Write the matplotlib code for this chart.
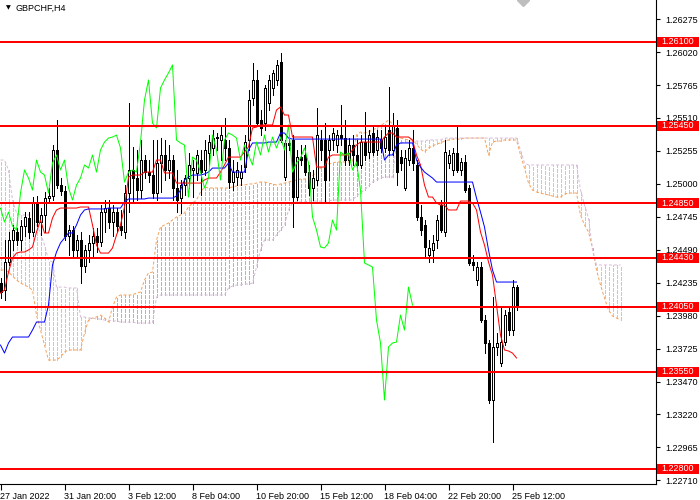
import matplotlib
matplotlib.use("Agg")
import matplotlib.pyplot as plt
import numpy as np
from matplotlib.transforms import blended_transform_factory
from matplotlib.patches import Rectangle

plt.rcParams['font.family'] = ['Liberation Sans', 'DejaVu Sans']

# ---------------- data (GBPCHF, H4) ----------------
opens = [1.24234, 1.24180, 1.24397, 1.24567, 1.24629, 1.24567, 1.24675, 1.24737, 1.24629, 1.24861,
         1.24706, 1.24760, 1.24891, 1.24907, 1.25263, 1.24992, 1.24946, 1.24598, 1.24644, 1.24490,
         1.24567, 1.24366, 1.24490, 1.24544, 1.24598, 1.24551, 1.24783, 1.24814, 1.24706, 1.24783,
         1.24675, 1.24629, 1.24930, 1.25108, 1.25046, 1.24953, 1.25185, 1.25092, 1.25069, 1.24930,
         1.25162, 1.25224, 1.25108, 1.25185, 1.24969, 1.24891, 1.24992, 1.25046, 1.25108, 1.25085,
         1.25185, 1.25108, 1.25239, 1.25278, 1.25355, 1.25340, 1.25340, 1.25278, 1.25015, 1.25054,
         1.25046, 1.25131, 1.25340, 1.25665, 1.25804, 1.25494, 1.25471, 1.25626, 1.25742, 1.25804,
         1.25943, 1.25054, 1.25317, 1.25340, 1.24899, 1.25208, 1.25224, 1.25092, 1.24969, 1.25031,
         1.25340, 1.25340, 1.25263, 1.25340, 1.25301, 1.25378, 1.25355, 1.25185, 1.25301, 1.25224,
         1.25147, 1.25324, 1.25247, 1.25394, 1.25263, 1.25340, 1.25278, 1.25417, 1.25263, 1.25433,
         1.25208, 1.24969, 1.25185, 1.25278, 1.25147, 1.24745, 1.24683, 1.24451, 1.24490, 1.24567,
         1.24837, 1.24629, 1.25162, 1.25108, 1.25239, 1.25108, 1.25170, 1.24969, 1.24397, 1.24258,
         1.24358, 1.23948, 1.23771, 1.23330, 1.23740, 1.23616, 1.23778, 1.24010, 1.23871, 1.24203]
highs = [1.24273, 1.24567, 1.24629, 1.24683, 1.24660, 1.24721, 1.24783, 1.24783, 1.24899, 1.24907,
         1.24814, 1.24938, 1.24969, 1.25301, 1.25494, 1.25046, 1.24984, 1.24683, 1.24675, 1.24605,
         1.24629, 1.24528, 1.24605, 1.24660, 1.24660, 1.24837, 1.24876, 1.24876, 1.24837, 1.24814,
         1.24799, 1.24992, 1.25626, 1.25286, 1.25263, 1.25340, 1.25224, 1.25185, 1.25340, 1.25340,
         1.25355, 1.25340, 1.25301, 1.25224, 1.25108, 1.25031, 1.25069, 1.25239, 1.25185, 1.25263,
         1.25263, 1.25340, 1.25378, 1.25417, 1.25394, 1.25456, 1.25510, 1.25340, 1.25185, 1.25170,
         1.25147, 1.25378, 1.25726, 1.25935, 1.25881, 1.25572, 1.25765, 1.25842, 1.25881, 1.25958,
         1.26012, 1.25340, 1.25355, 1.25378, 1.25263, 1.25301, 1.25301, 1.25147, 1.25108, 1.25587,
         1.25417, 1.25471, 1.25378, 1.25433, 1.25417, 1.25610, 1.25494, 1.25355, 1.25378, 1.25340,
         1.25378, 1.25556, 1.25417, 1.25456, 1.25417, 1.25417, 1.25456, 1.25750, 1.25549, 1.25494,
         1.25263, 1.25263, 1.25340, 1.25417, 1.25185, 1.24837, 1.24721, 1.24567, 1.24605, 1.24760,
         1.24876, 1.25340, 1.25263, 1.25278, 1.25456, 1.25201, 1.25224, 1.24992, 1.24451, 1.24397,
         1.24397, 1.23987, 1.23794, 1.24126, 1.23848, 1.24049, 1.24026, 1.24041, 1.24258, 1.24219]
lows = [1.24118, 1.24103, 1.24374, 1.24490, 1.24528, 1.24490, 1.24598, 1.24582, 1.24598, 1.24675,
        1.24605, 1.24629, 1.24853, 1.24876, 1.24969, 1.24915, 1.24567, 1.24451, 1.24443, 1.24428,
        1.24234, 1.24319, 1.24397, 1.24428, 1.24474, 1.24520, 1.24629, 1.24660, 1.24598, 1.24629,
        1.24605, 1.24582, 1.24783, 1.24853, 1.24876, 1.24891, 1.25046, 1.25015, 1.24891, 1.24876,
        1.24938, 1.25031, 1.25046, 1.24876, 1.24783, 1.24776, 1.24915, 1.24969, 1.24899, 1.25031,
        1.24915, 1.25069, 1.25147, 1.25224, 1.25263, 1.25185, 1.25185, 1.24969, 1.24953, 1.24992,
        1.24992, 1.25092, 1.25263, 1.25610, 1.25456, 1.25378, 1.25417, 1.25572, 1.25688, 1.25765,
        1.25324, 1.25031, 1.25263, 1.24667, 1.24876, 1.25147, 1.25069, 1.24915, 1.24876, 1.24992,
        1.25185, 1.24853, 1.25031, 1.25263, 1.25247, 1.25301, 1.25147, 1.25147, 1.25147, 1.25108,
        1.25123, 1.25185, 1.25201, 1.25224, 1.25224, 1.25247, 1.25247, 1.25224, 1.25224, 1.24992,
        1.25108, 1.24953, 1.25147, 1.25108, 1.24721, 1.24605, 1.24428, 1.24397, 1.24397, 1.24505,
        1.24629, 1.24598, 1.25123, 1.25069, 1.25092, 1.25069, 1.24938, 1.24374, 1.24335, 1.24219,
        1.23933, 1.23693, 1.23307, 1.23005, 1.23678, 1.23593, 1.23755, 1.23832, 1.23832, 1.24026]
closes = [1.24165, 1.24397, 1.24567, 1.24644, 1.24567, 1.24675, 1.24745, 1.24629, 1.24861, 1.24706,
          1.24760, 1.24891, 1.24907, 1.25263, 1.24992, 1.24946, 1.24598, 1.24644, 1.24490, 1.24567,
          1.24366, 1.24490, 1.24544, 1.24598, 1.24551, 1.24783, 1.24814, 1.24706, 1.24783, 1.24675,
          1.24644, 1.24930, 1.25108, 1.25046, 1.24953, 1.25185, 1.25092, 1.25069, 1.24930, 1.25162,
          1.25224, 1.25108, 1.25185, 1.24969, 1.24876, 1.24992, 1.25046, 1.25147, 1.25123, 1.25224,
          1.25092, 1.25263, 1.25324, 1.25355, 1.25363, 1.25378, 1.25278, 1.25015, 1.25092, 1.25108,
          1.25092, 1.25324, 1.25649, 1.25804, 1.25471, 1.25433, 1.25742, 1.25804, 1.25858, 1.25920,
          1.25340, 1.25317, 1.25301, 1.24899, 1.25208, 1.25185, 1.25092, 1.24969, 1.25046, 1.25378,
          1.25263, 1.25031, 1.25340, 1.25394, 1.25378, 1.25355, 1.25185, 1.25301, 1.25224, 1.25147,
          1.25324, 1.25224, 1.25378, 1.25247, 1.25363, 1.25278, 1.25363, 1.25263, 1.25456, 1.25092,
          1.25162, 1.25201, 1.25278, 1.25162, 1.24745, 1.24644, 1.24513, 1.24505, 1.24544, 1.24721,
          1.24644, 1.25247, 1.25224, 1.25239, 1.25108, 1.25170, 1.24953, 1.24389, 1.24374, 1.24358,
          1.23948, 1.23771, 1.23330, 1.23740, 1.23771, 1.23778, 1.23987, 1.23871, 1.24203, 1.24064]

tenkan = [1.24157, 1.24180, 1.24319, 1.24428, 1.24466, 1.24474, 1.24474, 1.24490, 1.24513, 1.24629,
          1.24721, 1.24621, 1.24621, 1.24737, 1.24799, 1.24814, 1.24814, 1.24814, 1.24814, 1.24814,
          1.24822, 1.24822, 1.24822, 1.24683, 1.24528, 1.24466, 1.24466, 1.24466, 1.24505, 1.24605,
          1.24683, 1.24822, 1.25054, 1.25069, 1.25069, 1.25069, 1.25092, 1.25092, 1.25092, 1.25185,
          1.25185, 1.25085, 1.25085, 1.25085, 1.25007, 1.25007, 1.25007, 1.25007, 1.25007, 1.25007,
          1.25007, 1.25031, 1.25046, 1.25046, 1.25046, 1.25092, 1.25147, 1.25208, 1.25208, 1.25208,
          1.25208, 1.25247, 1.25286, 1.25433, 1.25440, 1.25456, 1.25456, 1.25456, 1.25456, 1.25572,
          1.25595, 1.25533, 1.25533, 1.25363, 1.25363, 1.25363, 1.25363, 1.25363, 1.25363, 1.25131,
          1.25131, 1.25131, 1.25208, 1.25224, 1.25224, 1.25224, 1.25224, 1.25224, 1.25263, 1.25301,
          1.25324, 1.25324, 1.25324, 1.25324, 1.25324, 1.25324, 1.25363, 1.25394, 1.25394, 1.25363,
          1.25363, 1.25363, 1.25363, 1.25340, 1.25224, 1.25147, 1.24992, 1.24899, 1.24899, 1.24853,
          1.24837, 1.24837, 1.24799, 1.24799, 1.24799, 1.24868, 1.24868, 1.24868, 1.24853, 1.24799,
          1.24629, 1.24528, 1.24397, 1.24296, 1.24064, 1.23832, 1.23717, 1.23709, 1.23693, 1.23655]
kijun = [1.23755, 1.23693, 1.23771, 1.23817, 1.23817, 1.23817, 1.23817, 1.23817, 1.23871, 1.23933,
         1.23933, 1.23933, 1.24064, 1.24374, 1.24474, 1.24544, 1.24582, 1.24621, 1.24621, 1.24683,
         1.24760, 1.24799, 1.24807, 1.24807, 1.24807, 1.24807, 1.24807, 1.24814, 1.24814, 1.24814,
         1.24814, 1.24861, 1.24884, 1.24884, 1.24884, 1.24884, 1.24884, 1.24891, 1.24891, 1.24891,
         1.24891, 1.24891, 1.24891, 1.24891, 1.24907, 1.24953, 1.25031, 1.25054, 1.25069, 1.25069,
         1.25069, 1.25077, 1.25092, 1.25123, 1.25123, 1.25123, 1.25123, 1.25162, 1.25092, 1.25092,
         1.25092, 1.25092, 1.25263, 1.25317, 1.25317, 1.25317, 1.25317, 1.25324, 1.25324, 1.25324,
         1.25394, 1.25394, 1.25355, 1.25347, 1.25347, 1.25347, 1.25347, 1.25347, 1.25347, 1.25347,
         1.25347, 1.25347, 1.25347, 1.25347, 1.25347, 1.25347, 1.25347, 1.25347, 1.25347, 1.25347,
         1.25347, 1.25347, 1.25347, 1.25347, 1.25347, 1.25347, 1.25185, 1.25224, 1.25224, 1.25301,
         1.25317, 1.25317, 1.25317, 1.25317, 1.25185, 1.25131, 1.25092, 1.25069, 1.25046, 1.25015,
         1.25015, 1.25015, 1.25015, 1.25015, 1.25015, 1.25015, 1.25015, 1.25015, 1.25015, 1.24891,
         1.24783, 1.24667, 1.24490, 1.24335, 1.24242, 1.24242, 1.24242, 1.24242, 1.24242, 1.24242]
span_a = [1.24335, 1.24335, 1.24319, 1.24288, 1.24258, 1.24234, 1.24219, 1.24203, 1.24180, 1.23987,
          1.23871, 1.23755, 1.23639, 1.23639, 1.23639, 1.23662, 1.23701, 1.23717, 1.23717, 1.23717,
          1.23717, 1.23848, 1.23948, 1.23964, 1.23972, 1.23987, 1.23964, 1.23933, 1.24049, 1.24126,
          1.24142, 1.24142, 1.24142, 1.24142, 1.24157, 1.24165, 1.24258, 1.24312, 1.24319, 1.24567,
          1.24667, 1.24683, 1.24698, 1.24721, 1.24745, 1.24760, 1.24776, 1.24822, 1.24853, 1.24876,
          1.24938, 1.24977, 1.24969, 1.24969, 1.24969, 1.24969, 1.24969, 1.24969, 1.24977, 1.24984,
          1.24992, 1.24992, 1.25000, 1.25000, 1.25007, 1.25015, 1.25015, 1.25007, 1.25000, 1.24992,
          1.25000, 1.25007, 1.25015, 1.25023, 1.25031, 1.25038, 1.25038, 1.25046, 1.25062, 1.25092,
          1.25123, 1.25139, 1.25154, 1.25162, 1.25170, 1.25170, 1.25170, 1.25170, 1.25170, 1.25378,
          1.25402, 1.25394, 1.25402, 1.25417, 1.25433, 1.25448, 1.25471, 1.25494, 1.25463, 1.25402,
          1.25355, 1.25347, 1.25340, 1.25340, 1.25309, 1.25270, 1.25247, 1.25278, 1.25293, 1.25309,
          1.25317, 1.25332, 1.25340, 1.25347, 1.25347, 1.25347, 1.25355, 1.25355, 1.25355, 1.25355,
          1.25355, 1.25355, 1.25224, 1.25324, 1.25332, 1.25332, 1.25340, 1.25340, 1.25340, 1.25340,
          1.25224, 1.25123, 1.25007, 1.24953, 1.24938, 1.24930, 1.24922, 1.24915, 1.24907, 1.24899,
          1.24899, 1.24922, 1.24930, 1.24930, 1.24930, 1.24760, 1.24683, 1.24629, 1.24505, 1.24335,
          1.24219, 1.24118, 1.24026, 1.23979, 1.23964, 1.23948]
span_b = [1.25185, 1.25185, 1.25108, 1.24876, 1.24776, 1.24760, 1.24760, 1.24760, 1.24760, 1.24683,
          1.24621, 1.24528, 1.24412, 1.24397, 1.24203, 1.24203, 1.24203, 1.24196, 1.24196, 1.24196,
          1.23972, 1.23972, 1.23964, 1.23964, 1.23956, 1.23956, 1.23948, 1.23948, 1.23941, 1.23941,
          1.23933, 1.23933, 1.23933, 1.23933, 1.23925, 1.23925, 1.23925, 1.23925, 1.23925, 1.24126,
          1.24142, 1.24142, 1.24142, 1.24142, 1.24142, 1.24142, 1.24142, 1.24142, 1.24142, 1.24142,
          1.24142, 1.24142, 1.24142, 1.24142, 1.24142, 1.24142, 1.24142, 1.24196, 1.24211, 1.24219,
          1.24219, 1.24227, 1.24227, 1.24234, 1.24358, 1.24490, 1.24567, 1.24567, 1.24567, 1.24605,
          1.24644, 1.24683, 1.24799, 1.24853, 1.24861, 1.24861, 1.24861, 1.24868, 1.24868, 1.24868,
          1.24868, 1.24868, 1.24868, 1.24876, 1.24876, 1.24876, 1.24876, 1.24876, 1.24876, 1.24907,
          1.24930, 1.24953, 1.24984, 1.25015, 1.25031, 1.25046, 1.25054, 1.25054, 1.25054, 1.25317,
          1.25317, 1.25324, 1.25324, 1.25324, 1.25332, 1.25332, 1.25332, 1.25340, 1.25340, 1.25340,
          1.25340, 1.25355, 1.25355, 1.25355, 1.25355, 1.25355, 1.25355, 1.25355, 1.25355, 1.25355,
          1.25355, 1.25355, 1.25355, 1.25355, 1.25355, 1.25355, 1.25355, 1.25355, 1.25355, 1.25355,
          1.25263, 1.25162, 1.25147, 1.25147, 1.25147, 1.25147, 1.25147, 1.25147, 1.25147, 1.25147,
          1.25147, 1.25147, 1.25147, 1.25147, 1.25147, 1.24953, 1.24837, 1.24737, 1.24490, 1.24374,
          1.24374, 1.24374, 1.24374, 1.24374, 1.24374, 1.24374]
chikou_shift = 26

levels = [1.26100, 1.25450, 1.24850, 1.24430, 1.24050, 1.23550, 1.22800]
price_ticks = [1.26275, 1.26020, 1.25765, 1.25510, 1.25255, 1.25000, 1.24745, 1.24490,
               1.24235, 1.23980, 1.23725, 1.23470, 1.23220, 1.22965, 1.22710]
date_bars = [0, 16, 32, 48, 64, 80, 96, 112, 128]
date_labels = ["27 Jan 2022", "31 Jan 20:00", "3 Feb 12:00", "8 Feb 04:00", "10 Feb 20:00",
               "15 Feb 12:00", "18 Feb 04:00", "22 Feb 20:00", "25 Feb 12:00"]
symbol_title = "GBPCHF,H4"

# ---------------- figure ----------------
W, H = 700, 500
fig = plt.figure(figsize=(W / 100, H / 100), dpi=100)
fig.patch.set_facecolor('white')
ax = fig.add_axes([0, 16 / H, 656 / W, 484 / H])
ax.set_facecolor('white')

n = len(closes)
x = np.arange(n)
o = np.array(opens); h = np.array(highs); l = np.array(lows); c = np.array(closes)
a = np.array(span_a); b = np.array(span_b)
xc = np.arange(len(a))

px = 0.72                # one screen pixel
dash = (0, (3, 2))
up_col = '#F4A460'       # sandy brown (span A above)
dn_col = '#D8BFD8'       # thistle (span B above)

# Ichimoku cloud: crisp dashed vertical hatch per bar (MT4 style)
cols = [up_col if a[i] >= b[i] else dn_col for i in range(len(a))]
ax.vlines(xc, np.minimum(a, b), np.maximum(a, b), colors=cols, linestyles=dash,
          linewidth=px, antialiased=False, zorder=1)
ax.plot(xc, a, color=up_col, linestyle=dash, linewidth=px, zorder=1.2)
ax.plot(xc, b, color=dn_col, linestyle=dash, linewidth=px, zorder=1.2)

# candles
ax.vlines(x, l, h, colors='black', linewidth=px, antialiased=False, zorder=2)
bull = c >= o
bot = np.minimum(o, c)
hgt = np.abs(c - o)
ax.bar(x[bull], hgt[bull], bottom=bot[bull], width=0.5, color='white',
       edgecolor='black', linewidth=px, antialiased=False, zorder=2.2)
ax.bar(x[~bull], hgt[~bull], bottom=bot[~bull], width=0.5, color='black',
       edgecolor='black', linewidth=px, antialiased=False, zorder=2.2)

# Ichimoku lines
ax.plot(x, tenkan, color='#FF0000', linewidth=px, zorder=3)
ax.plot(x, kijun, color='#0000FF', linewidth=px, zorder=3)
ax.plot(x - chikou_shift, c, color='#00FF00', linewidth=px, zorder=3)

# horizontal levels
for lv in levels:
    ax.axhline(lv, color='#FF0000', linewidth=1.44, zorder=4)

# axes setup
ax.set_xlim(-0.125, 163.875)
ax.set_ylim(1.22681, 1.26422)
for s in ['left', 'top']:
    ax.spines[s].set_visible(False)
for s in ['right', 'bottom']:
    ax.spines[s].set_linewidth(0.8)
    ax.spines[s].set_color('black')

ax.yaxis.tick_right()
ax.set_yticks(price_ticks)
ax.set_yticklabels([f"{v:.5f}" for v in price_ticks])
ax.tick_params(axis='y', direction='out', length=3, width=0.8, pad=4, labelsize=6.5)
ax.set_xticks(date_bars)
ax.set_xticklabels(date_labels)
ax.tick_params(axis='x', direction='out', length=4, width=0.8, pad=1.5, labelsize=6.5)
for lab in ax.get_xticklabels():
    lab.set_ha('left')

# level labels on the price scale
tr = blended_transform_factory(ax.transAxes, ax.transData)
half = 5 * (1.26422 - 1.22681) / 484
for lv in levels:
    ax.add_patch(Rectangle((657 / 656, lv - half), 42 / 656, 2 * half, transform=tr,
                           facecolor='#FF0000', edgecolor='none', clip_on=False, zorder=6))
    ax.text(678 / 656, lv, f"{lv:.5f}", transform=tr, ha='center', va='center',
            color='white', fontsize=6.5, clip_on=False, zorder=7)

# title and chart-shift marker
fig.text(6 / W, 1 - 8 / H, '\u25BC', fontsize=4.5, family='DejaVu Sans', va='center', ha='left')
fig.text(15 / W, 1 - 8 / H, symbol_title, fontsize=6.5, va='center', ha='left')
ax.plot([523 / 656], [1.0], marker='D', markersize=6, color='#BEBEBE', transform=ax.transAxes,
        clip_on=False, zorder=5)

fig.savefig('out.png', dpi=100, facecolor='white')
